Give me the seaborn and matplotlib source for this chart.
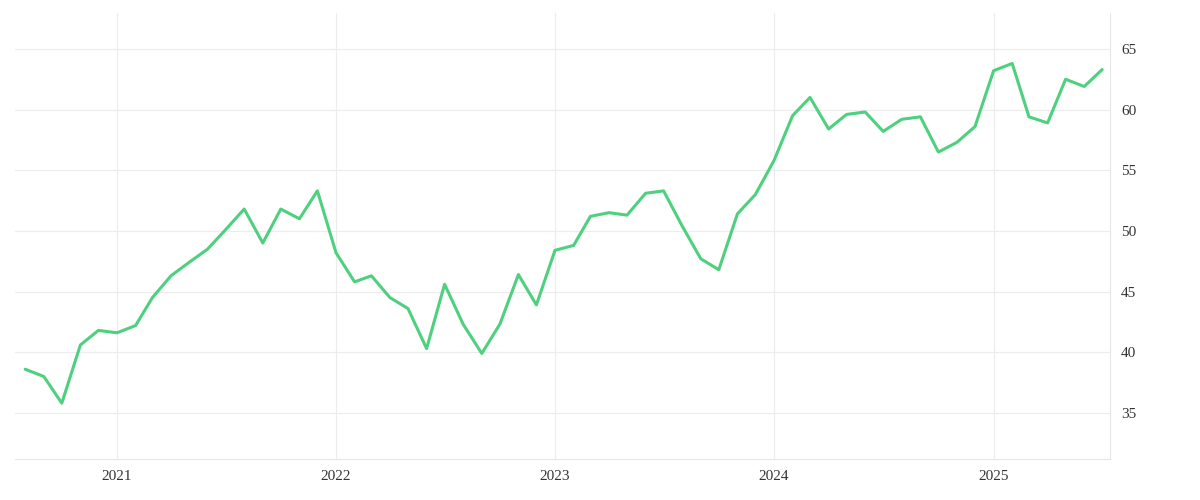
import pandas as pd
import matplotlib.pyplot as plt
import matplotlib.dates as mdates
import seaborn as sns

# Monthly values, Aug 2020 .. Jul 2025
months = pd.date_range('2020-08-01', '2025-07-01', freq='MS')
values = [38.6, 38.0, 35.8, 40.6, 41.8,
          41.6, 42.2, 44.5, 46.3, 47.4, 48.5, 50.1, 51.8, 49.0, 51.8, 51.0, 53.3,
          48.2, 45.8, 46.3, 44.5, 43.6, 40.3, 45.6, 42.3, 39.9, 42.3, 46.4, 43.9,
          48.4, 48.8, 51.2, 51.5, 51.3, 53.1, 53.3, 50.4, 47.7, 46.8, 51.4, 53.0,
          55.8, 59.5, 61.0, 58.4, 59.6, 59.8, 58.2, 59.2, 59.4, 56.5, 57.3, 58.6,
          63.2, 63.8, 59.4, 58.9, 62.5, 61.9, 63.3]
y_ticks = [35, 40, 45, 50, 55, 60, 65]

df = pd.DataFrame({'date': months, 'value': values})

sns.set_style('white')
plt.rcParams['font.family'] = ['Liberation Serif', 'DejaVu Serif']

fig, ax = plt.subplots(figsize=(12, 5), dpi=100)
fig.subplots_adjust(left=0.0125, right=0.925, top=0.975, bottom=0.082)

sns.lineplot(data=df, x='date', y='value', color='#4ed07e', linewidth=2.2, ax=ax)

ax.set_xlim(pd.Timestamp('2020-07-15'), pd.Timestamp('2025-07-14'))
ax.set_ylim(31.2, 68.0)
ax.set_yticks(y_ticks)
ax.xaxis.set_major_locator(mdates.YearLocator())
ax.xaxis.set_major_formatter(mdates.DateFormatter('%Y'))
ax.yaxis.tick_right()
ax.grid(True, color='#ececec', linewidth=0.8)
for s in ['top', 'left']:
    ax.spines[s].set_visible(False)
ax.spines['bottom'].set_color('#e6e6e6')
ax.spines['right'].set_color('#e6e6e6')
ax.tick_params(length=0, labelsize=11, colors='#333333', pad=8)
ax.set_xlabel('')
ax.set_ylabel('')

plt.savefig('out.png')
